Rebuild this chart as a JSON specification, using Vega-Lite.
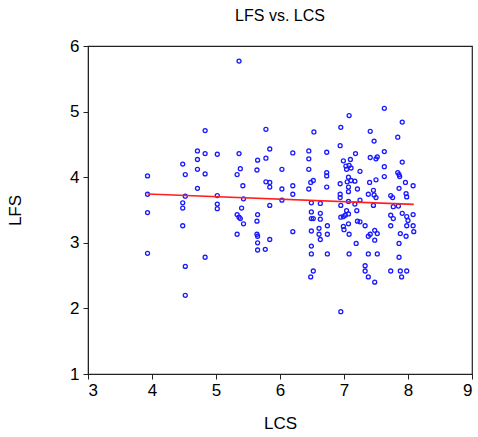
{
  "$schema": "https://vega.github.io/schema/vega-lite/v6.json",
  "autosize": {"type": "none"},
  "padding": {"left": 88, "top": 46, "right": 6, "bottom": 63},
  "width": 384,
  "height": 328,
  "background": "white",
  "title": {"text": "LFS vs. LCS", "font": "Liberation Sans", "fontSize": 16, "fontWeight": "normal", "color": "#000", "anchor": "middle", "offset": 13},
  "config": {
    "view": {"stroke": "#222", "strokeWidth": 1.2},
    "axis": {"grid": false, "domainColor": "#222", "tickColor": "#222", "labelFont": "Liberation Sans", "titleFont": "Liberation Sans", "labelFontSize": 17, "titleFontSize": 17, "labelColor": "#000", "titleColor": "#000", "titleFontWeight": "normal", "tickSize": 5, "format": "d"}
  },
  "datasets": {
    "pts": [
      {"LCS":3.93,"LFS":4.02},{"LCS":3.93,"LFS":3.74},{"LCS":3.93,"LFS":3.46},{"LCS":3.93,"LFS":2.84},
      {"LCS":4.48,"LFS":4.20},{"LCS":4.48,"LFS":3.61},{"LCS":4.48,"LFS":3.53},{"LCS":4.48,"LFS":3.26},
      {"LCS":4.52,"LFS":4.04},{"LCS":4.52,"LFS":3.71},{"LCS":4.52,"LFS":2.64},{"LCS":4.52,"LFS":2.20},
      {"LCS":4.71,"LFS":4.40},{"LCS":4.71,"LFS":4.27},{"LCS":4.71,"LFS":4.12},{"LCS":4.71,"LFS":3.83},
      {"LCS":4.83,"LFS":4.71},{"LCS":4.83,"LFS":4.36},{"LCS":4.83,"LFS":4.05},{"LCS":4.83,"LFS":2.78},
      {"LCS":5.02,"LFS":4.35},{"LCS":5.02,"LFS":3.72},{"LCS":5.02,"LFS":3.59},{"LCS":5.02,"LFS":3.52},
      {"LCS":5.33,"LFS":4.04},{"LCS":5.33,"LFS":3.43},{"LCS":5.33,"LFS":3.13},
      {"LCS":5.36,"LFS":5.77},{"LCS":5.36,"LFS":4.36},{"LCS":5.36,"LFS":3.39},
      {"LCS":5.38,"LFS":4.13},{"LCS":5.38,"LFS":3.37},{"LCS":5.40,"LFS":3.53},{"LCS":5.42,"LFS":3.87},
      {"LCS":5.43,"LFS":3.67},{"LCS":5.43,"LFS":3.29},
      {"LCS":5.64,"LFS":4.11},{"LCS":5.64,"LFS":3.33},{"LCS":5.64,"LFS":3.13},
      {"LCS":5.65,"LFS":4.26},{"LCS":5.65,"LFS":3.43},{"LCS":5.65,"LFS":3.10},{"LCS":5.65,"LFS":3.00},{"LCS":5.65,"LFS":2.89},
      {"LCS":5.77,"LFS":2.90},
      {"LCS":5.78,"LFS":4.73},{"LCS":5.78,"LFS":4.29},{"LCS":5.78,"LFS":3.93},
      {"LCS":5.84,"LFS":4.43},{"LCS":5.84,"LFS":3.92},{"LCS":5.84,"LFS":3.85},{"LCS":5.84,"LFS":3.57},{"LCS":5.84,"LFS":3.05},
      {"LCS":6.03,"LFS":4.12},{"LCS":6.03,"LFS":3.82},{"LCS":6.03,"LFS":3.65},
      {"LCS":6.20,"LFS":4.37},{"LCS":6.20,"LFS":3.87},{"LCS":6.20,"LFS":3.74},{"LCS":6.20,"LFS":3.17},
      {"LCS":6.45,"LFS":4.40},{"LCS":6.45,"LFS":4.28},{"LCS":6.45,"LFS":4.12},{"LCS":6.45,"LFS":3.82},
      {"LCS":6.48,"LFS":3.92},{"LCS":6.48,"LFS":2.48},
      {"LCS":6.49,"LFS":3.61},{"LCS":6.49,"LFS":3.47},{"LCS":6.49,"LFS":3.37},{"LCS":6.49,"LFS":3.18},{"LCS":6.49,"LFS":2.95},{"LCS":6.49,"LFS":2.83},
      {"LCS":6.52,"LFS":3.95},{"LCS":6.52,"LFS":3.37},{"LCS":6.52,"LFS":2.57},
      {"LCS":6.53,"LFS":4.69},
      {"LCS":6.61,"LFS":3.22},{"LCS":6.61,"LFS":3.13},
      {"LCS":6.63,"LFS":3.60},{"LCS":6.63,"LFS":3.45},{"LCS":6.63,"LFS":3.36},{"LCS":6.63,"LFS":3.05},
      {"LCS":6.73,"LFS":4.38},{"LCS":6.73,"LFS":4.07},{"LCS":6.73,"LFS":4.02},{"LCS":6.73,"LFS":3.85},
      {"LCS":6.74,"LFS":3.26},{"LCS":6.74,"LFS":3.13},{"LCS":6.74,"LFS":2.83},
      {"LCS":6.94,"LFS":4.48},{"LCS":6.94,"LFS":3.90},{"LCS":6.94,"LFS":3.74},{"LCS":6.94,"LFS":3.69},
      {"LCS":6.95,"LFS":4.76},{"LCS":6.95,"LFS":3.57},{"LCS":6.95,"LFS":3.39},{"LCS":6.95,"LFS":1.95},
      {"LCS":6.99,"LFS":4.25},{"LCS":6.99,"LFS":3.40},{"LCS":6.99,"LFS":3.25},
      {"LCS":7.00,"LFS":3.20},{"LCS":7.02,"LFS":3.42},{"LCS":7.03,"LFS":4.17},
      {"LCS":7.04,"LFS":4.12},{"LCS":7.04,"LFS":3.49},{"LCS":7.05,"LFS":3.93},
      {"LCS":7.07,"LFS":4.00},{"LCS":7.07,"LFS":3.85},{"LCS":7.07,"LFS":3.78},{"LCS":7.07,"LFS":3.63},{"LCS":7.07,"LFS":3.44},{"LCS":7.07,"LFS":3.29},
      {"LCS":7.08,"LFS":4.94},{"LCS":7.08,"LFS":4.18},{"LCS":7.08,"LFS":3.13},{"LCS":7.08,"LFS":2.83},
      {"LCS":7.10,"LFS":4.27},{"LCS":7.11,"LFS":4.14},{"LCS":7.11,"LFS":3.95},
      {"LCS":7.17,"LFS":3.94},{"LCS":7.17,"LFS":3.59},{"LCS":7.18,"LFS":4.36},{"LCS":7.19,"LFS":2.99},
      {"LCS":7.20,"LFS":3.49},{"LCS":7.21,"LFS":3.82},{"LCS":7.21,"LFS":3.33},
      {"LCS":7.25,"LFS":4.09},{"LCS":7.25,"LFS":3.65},{"LCS":7.25,"LFS":3.32},
      {"LCS":7.33,"LFS":3.26},{"LCS":7.33,"LFS":2.65},{"LCS":7.33,"LFS":2.57},
      {"LCS":7.38,"LFS":3.74},{"LCS":7.38,"LFS":3.10},{"LCS":7.38,"LFS":2.83},{"LCS":7.38,"LFS":2.48},
      {"LCS":7.40,"LFS":3.92},
      {"LCS":7.41,"LFS":4.70},{"LCS":7.41,"LFS":4.30},{"LCS":7.41,"LFS":3.13},
      {"LCS":7.46,"LFS":3.80},{"LCS":7.46,"LFS":3.57},
      {"LCS":7.47,"LFS":4.55},{"LCS":7.47,"LFS":3.73},
      {"LCS":7.48,"LFS":3.19},{"LCS":7.48,"LFS":3.04},{"LCS":7.48,"LFS":2.40},
      {"LCS":7.50,"LFS":4.28},{"LCS":7.50,"LFS":3.96},{"LCS":7.50,"LFS":3.69},
      {"LCS":7.52,"LFS":4.31},{"LCS":7.52,"LFS":3.14},{"LCS":7.52,"LFS":2.83},
      {"LCS":7.63,"LFS":5.05},{"LCS":7.63,"LFS":4.39},{"LCS":7.63,"LFS":4.16},{"LCS":7.63,"LFS":4.01},
      {"LCS":7.73,"LFS":3.72},{"LCS":7.73,"LFS":3.42},{"LCS":7.73,"LFS":3.26},{"LCS":7.73,"LFS":2.57},
      {"LCS":7.76,"LFS":3.69},{"LCS":7.77,"LFS":3.55},{"LCS":7.77,"LFS":3.37},
      {"LCS":7.84,"LFS":4.61},{"LCS":7.84,"LFS":4.07},{"LCS":7.85,"LFS":3.56},
      {"LCS":7.86,"LFS":4.04},{"LCS":7.86,"LFS":3.83},{"LCS":7.86,"LFS":2.99},{"LCS":7.86,"LFS":2.78},
      {"LCS":7.87,"LFS":4.01},{"LCS":7.88,"LFS":3.14},{"LCS":7.88,"LFS":2.57},{"LCS":7.90,"LFS":2.48},
      {"LCS":7.91,"LFS":4.84},{"LCS":7.91,"LFS":4.23},{"LCS":7.91,"LFS":3.45},
      {"LCS":7.96,"LFS":3.92},{"LCS":7.97,"LFS":3.75},{"LCS":7.97,"LFS":3.10},
      {"LCS":7.98,"LFS":3.70},{"LCS":7.98,"LFS":3.40},{"LCS":7.98,"LFS":3.26},{"LCS":7.98,"LFS":2.57},
      {"LCS":8.00,"LFS":3.34},
      {"LCS":8.08,"LFS":3.87},{"LCS":8.08,"LFS":3.43},{"LCS":8.08,"LFS":3.26},{"LCS":8.09,"LFS":3.17}
    ],
    "fit": [
      {"LCS": 3.93, "LFS": 3.745},
      {"LCS": 8.09, "LFS": 3.585}
    ]
  },
  "layer": [
    {
      "data": {"name": "pts"},
      "mark": {"type": "point", "shape": "circle", "filled": false, "size": 16, "strokeWidth": 1.3, "color": "#1a1aff", "opacity": 1},
      "encoding": {
        "x": {"field": "LCS", "type": "quantitative", "scale": {"domain": [3, 9], "nice": false, "zero": false},
              "axis": {"values": [3,4,5,6,7,8,9], "title": "LCS", "labelPadding": 3, "titlePadding": 17}},
        "y": {"field": "LFS", "type": "quantitative", "scale": {"domain": [1, 6], "nice": false, "zero": false},
              "axis": {"values": [1,2,3,4,5,6], "title": "LFS", "labelPadding": 4, "titlePadding": 45}}
      }
    },
    {
      "data": {"name": "fit"},
      "mark": {"type": "line", "color": "#ff2020", "strokeWidth": 1.6},
      "encoding": {
        "x": {"field": "LCS", "type": "quantitative"},
        "y": {"field": "LFS", "type": "quantitative"}
      }
    }
  ]
}
